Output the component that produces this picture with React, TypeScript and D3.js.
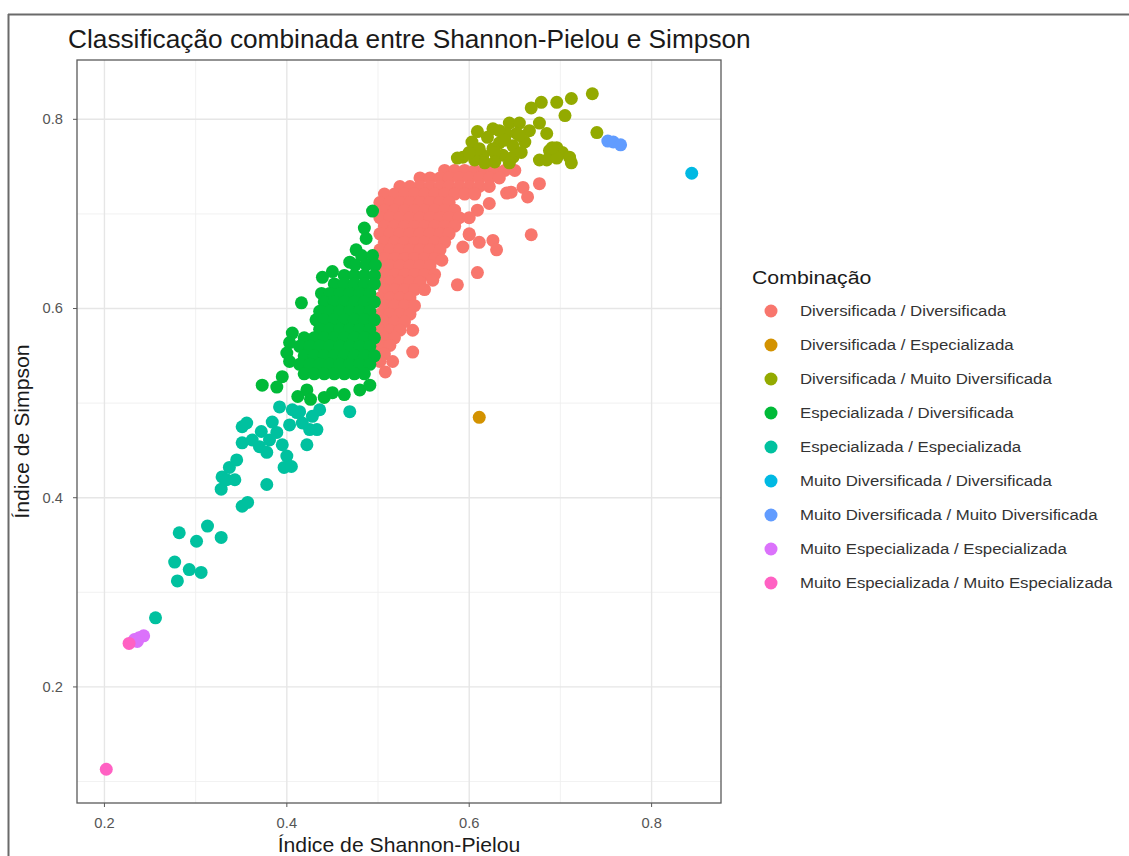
import React from "react";
import * as d3 from "d3";

const categories = [
  "Diversificada / Diversificada",
  "Diversificada / Especializada",
  "Diversificada / Muito Diversificada",
  "Especializada / Diversificada",
  "Especializada / Especializada",
  "Muito Diversificada / Diversificada",
  "Muito Diversificada / Muito Diversificada",
  "Muito Especializada / Especializada",
  "Muito Especializada / Muito Especializada",
];

const colors = ["#F8766D", "#D39200", "#93AA00", "#00BA38", "#00C19F", "#00B9E3", "#619CFF", "#DB72FB", "#FF61C3"];

const xTicks = [0.2, 0.4, 0.6, 0.8];
const yTicks = [0.2, 0.4, 0.6, 0.8];
const xMinor = [0.3, 0.5, 0.7];
const yMinor = [0.1, 0.3, 0.5, 0.7];

// [Shannon-Pielou, Simpson]
const divDiv: [number, number][] = [
  [0.573,0.746],[0.584,0.746],[0.595,0.746],[0.606,0.746],[0.617,0.746],[0.628,0.746],[0.639,0.746],[0.650,0.746],
  [0.546,0.738],[0.557,0.738],[0.568,0.738],[0.578,0.738],[0.589,0.738],[0.600,0.738],[0.611,0.738],[0.622,0.738],[0.633,0.738],
  [0.524,0.729],[0.535,0.729],[0.546,0.729],[0.557,0.729],[0.568,0.729],[0.578,0.729],[0.589,0.729],[0.600,0.729],[0.611,0.729],[0.622,0.729],
  [0.507,0.721],[0.518,0.721],[0.529,0.721],[0.540,0.721],[0.551,0.721],[0.562,0.721],[0.573,0.721],[0.584,0.721],[0.595,0.721],[0.606,0.721],
  [0.502,0.712],[0.513,0.712],[0.524,0.712],[0.535,0.712],[0.546,0.712],[0.557,0.712],[0.568,0.712],[0.578,0.712],
  [0.507,0.704],[0.518,0.704],[0.529,0.704],[0.540,0.704],[0.551,0.704],[0.562,0.704],[0.573,0.704],[0.584,0.704],[0.609,0.704],
  [0.502,0.696],[0.513,0.696],[0.524,0.696],[0.535,0.696],[0.546,0.696],[0.557,0.696],[0.568,0.696],[0.578,0.696],[0.589,0.696],[0.600,0.696],
  [0.507,0.687],[0.518,0.687],[0.529,0.687],[0.540,0.687],[0.551,0.687],[0.562,0.687],[0.573,0.687],[0.584,0.687],
  [0.502,0.679],[0.513,0.679],[0.524,0.679],[0.535,0.679],[0.546,0.679],[0.557,0.679],[0.568,0.679],[0.578,0.679],[0.600,0.679],
  [0.507,0.670],[0.518,0.670],[0.529,0.670],[0.540,0.670],[0.551,0.670],[0.562,0.670],[0.573,0.670],[0.611,0.670],[0.626,0.672],
  [0.502,0.662],[0.513,0.662],[0.524,0.662],[0.535,0.662],[0.546,0.662],[0.557,0.662],[0.568,0.662],[0.593,0.665],[0.630,0.662],
  [0.507,0.653],[0.518,0.653],[0.529,0.653],[0.540,0.653],[0.551,0.653],[0.562,0.653],[0.570,0.651],
  [0.502,0.645],[0.513,0.645],[0.524,0.645],[0.535,0.645],[0.546,0.645],[0.557,0.645],
  [0.507,0.636],[0.518,0.636],[0.529,0.636],[0.540,0.636],[0.551,0.636],[0.562,0.636],[0.609,0.638],
  [0.502,0.628],[0.513,0.628],[0.524,0.628],[0.535,0.628],[0.546,0.628],[0.560,0.630],[0.587,0.625],
  [0.507,0.620],[0.518,0.620],[0.529,0.620],[0.540,0.620],[0.551,0.620],
  [0.502,0.611],[0.513,0.611],[0.524,0.611],[0.535,0.611],
  [0.507,0.603],[0.518,0.603],[0.529,0.603],[0.540,0.603],
  [0.502,0.594],[0.513,0.594],[0.524,0.594],[0.535,0.594],
  [0.507,0.586],[0.518,0.586],[0.529,0.586],
  [0.502,0.577],[0.513,0.577],[0.524,0.577],[0.538,0.577],
  [0.507,0.569],[0.518,0.569],
  [0.502,0.561],[0.513,0.561],
  [0.507,0.552],[0.538,0.554],
  [0.502,0.544],[0.516,0.544],
  [0.508,0.533],
  [0.641,0.722],[0.659,0.728],[0.677,0.732],[0.664,0.718],[0.646,0.723],[0.622,0.711],[0.668,0.678],[0.600,0.678],
];

const divEsp: [number, number][] = [[0.611, 0.485]];

const divMuitoDiv: [number, number][] = [
  [0.735,0.827],[0.712,0.822],[0.696,0.818],[0.679,0.818],[0.668,0.812],[0.705,0.804],[0.740,0.786],
  [0.677,0.796],[0.685,0.785],[0.644,0.796],[0.655,0.796],[0.652,0.785],[0.641,0.785],[0.626,0.790],
  [0.620,0.781],[0.633,0.775],[0.648,0.772],[0.661,0.776],[0.666,0.788],[0.603,0.776],[0.593,0.760],
  [0.587,0.759],[0.615,0.762],[0.626,0.769],[0.637,0.762],[0.648,0.760],[0.657,0.765],[0.677,0.757],
  [0.688,0.767],[0.696,0.770],[0.702,0.765],[0.710,0.760],[0.712,0.754],[0.685,0.757],[0.696,0.759],
  [0.691,0.770],[0.609,0.787],[0.633,0.788],[0.639,0.778],[0.628,0.765],[0.606,0.757],[0.617,0.754],
  [0.628,0.755],[0.644,0.754],[0.611,0.769],[0.600,0.765],[0.655,0.783],
];

const espDiv: [number, number][] = [
  [0.494,0.703],[0.485,0.685],[0.487,0.674],[0.476,0.662],[0.469,0.649],[0.439,0.633],[0.450,0.639],
  [0.438,0.616],[0.416,0.606],[0.432,0.588],[0.406,0.574],[0.403,0.564],[0.400,0.553],[0.403,0.544],
  [0.395,0.528],[0.389,0.517],[0.373,0.519],[0.422,0.514],[0.412,0.507],[0.450,0.511],[0.426,0.504],
  [0.441,0.506],[0.463,0.509],[0.480,0.514],[0.491,0.519],
  [0.482,0.656],[0.494,0.656],
  [0.475,0.646],[0.487,0.646],[0.497,0.646],
  [0.463,0.635],[0.474,0.635],[0.485,0.635],[0.496,0.635],
  [0.452,0.626],[0.463,0.626],[0.474,0.626],[0.485,0.626],[0.496,0.626],
  [0.447,0.616],[0.458,0.616],[0.469,0.616],[0.480,0.616],[0.491,0.616],
  [0.441,0.607],[0.452,0.607],[0.463,0.607],[0.474,0.607],[0.485,0.607],[0.496,0.607],
  [0.436,0.597],[0.447,0.597],[0.458,0.597],[0.469,0.597],[0.480,0.597],[0.491,0.597],
  [0.441,0.588],[0.452,0.588],[0.463,0.588],[0.474,0.588],[0.485,0.588],[0.496,0.588],
  [0.436,0.578],[0.447,0.578],[0.458,0.578],[0.469,0.578],[0.480,0.578],[0.491,0.578],
  [0.419,0.569],[0.430,0.569],[0.441,0.569],[0.452,0.569],[0.463,0.569],[0.474,0.569],[0.485,0.569],[0.496,0.569],
  [0.414,0.560],[0.425,0.560],[0.436,0.560],[0.447,0.560],[0.458,0.560],[0.469,0.560],[0.480,0.560],[0.491,0.560],
  [0.419,0.550],[0.430,0.550],[0.441,0.550],[0.452,0.550],[0.463,0.550],[0.474,0.550],[0.485,0.550],[0.496,0.550],
  [0.414,0.541],[0.425,0.541],[0.436,0.541],[0.447,0.541],[0.458,0.541],[0.469,0.541],[0.480,0.541],[0.491,0.541],
  [0.419,0.531],[0.430,0.531],[0.441,0.531],[0.452,0.531],[0.463,0.531],[0.474,0.531],[0.485,0.531],
];

const espEsp: [number, number][] = [
  [0.256,0.273],[0.277,0.332],[0.280,0.312],[0.293,0.324],[0.306,0.321],[0.282,0.363],[0.301,0.354],
  [0.313,0.370],[0.328,0.358],[0.351,0.391],[0.357,0.395],[0.378,0.414],[0.328,0.409],[0.329,0.422],
  [0.334,0.419],[0.337,0.432],[0.345,0.440],[0.351,0.458],[0.351,0.475],[0.362,0.461],[0.370,0.454],
  [0.378,0.448],[0.384,0.480],[0.389,0.469],[0.392,0.496],[0.400,0.444],[0.397,0.432],[0.406,0.493],
  [0.417,0.479],[0.425,0.472],[0.428,0.486],[0.422,0.456],[0.405,0.433],[0.381,0.461],[0.414,0.491],
  [0.469,0.491],[0.411,0.490],[0.433,0.472],[0.356,0.479],[0.343,0.419],[0.372,0.470],[0.403,0.477],
  [0.436,0.493],[0.395,0.456],
];

const muitoDivDiv: [number, number][] = [[0.844, 0.743]];
const muitoDivMuitoDiv: [number, number][] = [[0.752,0.777],[0.758,0.776],[0.766,0.773]];
const muitoEspEsp: [number, number][] = [[0.233,0.250],[0.238,0.252],[0.243,0.254],[0.236,0.248]];
const muitoEspMuitoEsp: [number, number][] = [[0.202,0.113],[0.227,0.246]];

const series = [divDiv, divEsp, divMuitoDiv, espDiv, espEsp, muitoDivDiv, muitoDivMuitoDiv, muitoEspEsp, muitoEspMuitoEsp];

const W = 1129, H = 856;
const P = { left: 77, right: 721, top: 60, bottom: 803 };
const FONT = "'Liberation Sans', Arial, Helvetica, sans-serif";

function T(props: { x: number; y: number; sx?: number; rot?: number; size: number; fill?: string; anchor?: string; dy?: string; children: React.ReactNode }) {
  const { x, y, sx = 1, rot = 0, size, fill = "#1a1a1a", anchor = "start", dy, children } = props;
  return (
    <text transform={`translate(${x},${y}) rotate(${rot}) scale(${sx},1)`} fontSize={size} fill={fill} textAnchor={anchor} dy={dy}>
      {children}
    </text>
  );
}

export default function App() {
  const all = series.flat();
  const xe = d3.extent(all, (d) => d[0]) as [number, number];
  const ye = d3.extent(all, (d) => d[1]) as [number, number];
  const xp = (xe[1] - xe[0]) * 0.05;
  const yp = (ye[1] - ye[0]) * 0.05;
  const x = d3.scaleLinear().domain([xe[0] - xp, xe[1] + xp]).range([P.left, P.right]);
  const y = d3.scaleLinear().domain([ye[0] - yp, ye[1] + yp]).range([P.bottom, P.top]);
  const r = 6.5;

  return (
    <svg width={W} height={H} style={{ position: "absolute", left: 0, top: 0, background: "#fff" }} fontFamily={FONT}>
      <rect x={0} y={0} width={W} height={H} fill="#fff" />
      <line x1={8} x2={W} y1={14.5} y2={14.5} stroke="#6a6a6a" strokeWidth={2} />
      <line x1={8.5} x2={8.5} y1={14} y2={H} stroke="#6a6a6a" strokeWidth={2} />
      <T x={68} y={48} size={25} sx={1.05}>Classificação combinada entre Shannon-Pielou e Simpson</T>
      {xMinor.map((t) => (
        <line key={"xm" + t} x1={x(t)} x2={x(t)} y1={P.top} y2={P.bottom} stroke="#ededed" strokeWidth={0.8} />
      ))}
      {yMinor.map((t) => (
        <line key={"ym" + t} y1={y(t)} y2={y(t)} x1={P.left} x2={P.right} stroke="#ededed" strokeWidth={0.8} />
      ))}
      {xTicks.map((t) => (
        <line key={"xg" + t} x1={x(t)} x2={x(t)} y1={P.top} y2={P.bottom} stroke="#e6e6e6" strokeWidth={1.4} />
      ))}
      {yTicks.map((t) => (
        <line key={"yg" + t} y1={y(t)} y2={y(t)} x1={P.left} x2={P.right} stroke="#e6e6e6" strokeWidth={1.4} />
      ))}
      {series.map((s, i) =>
        s.map((d, j) => <circle key={i + "-" + j} cx={x(d[0])} cy={y(d[1])} r={r} fill={colors[i]} />)
      )}
      <rect x={P.left} y={P.top} width={P.right - P.left} height={P.bottom - P.top} fill="none" stroke="#5a5a5a" strokeWidth={1.3} />
      {xTicks.map((t) => (
        <g key={"xt" + t}>
          <line x1={x(t)} x2={x(t)} y1={P.bottom} y2={P.bottom + 4} stroke="#5a5a5a" strokeWidth={1} />
          <T x={x(t)} y={828} size={14} sx={1.05} anchor="middle" fill="#555">{t.toFixed(1)}</T>
        </g>
      ))}
      {yTicks.map((t) => (
        <g key={"yt" + t}>
          <line x1={P.left - 4} x2={P.left} y1={y(t)} y2={y(t)} stroke="#5a5a5a" strokeWidth={1} />
          <T x={63} y={y(t)} size={14} sx={1.05} anchor="end" dy="0.35em" fill="#555">{t.toFixed(1)}</T>
        </g>
      ))}
      <T x={(P.left + P.right) / 2} y={852} size={20} sx={1.06} anchor="middle">Índice de Shannon-Pielou</T>
      <T x={29} y={(P.top + P.bottom) / 2} rot={-90} size={20} sx={1.06} anchor="middle">Índice de Simpson</T>
      <T x={752} y={284} size={19} sx={1.12}>Combinação</T>
      {categories.map((c, i) => (
        <g key={c}>
          <circle cx={771} cy={311 + i * 34} r={r} fill={colors[i]} />
          <T x={800} y={311 + i * 34} size={15} sx={1.12} dy="0.35em" fill="#333">{c}</T>
        </g>
      ))}
    </svg>
  );
}
